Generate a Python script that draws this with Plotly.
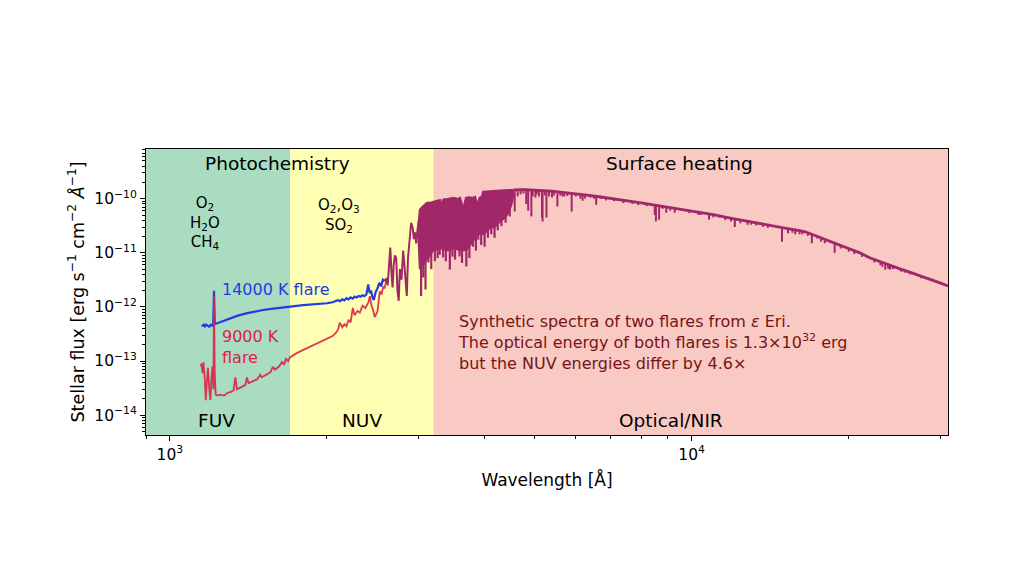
import math
import plotly.graph_objects as go

# ---------------- data ----------------
# background bands (wavelength edges, Angstrom)
band_edges = [900, 1700, 3200, 31000]
band_colors = ["#a9dcc1", "#ffffb3", "#f9c9c4"]

# 14000 K flare (FUV / NUV)
blue_wl = [1150, 1158, 1163, 1168, 1175, 1182, 1190, 1198, 1205, 1211, 1215, 1219, 1225, 1240,
           1270, 1300, 1350, 1400, 1450, 1500, 1550, 1600, 1650, 1700, 1750, 1800, 1850, 1900,
           1950, 2000, 2050, 2080, 2100, 2120, 2140, 2160, 2180, 2200, 2220, 2240, 2260, 2280,
           2300, 2320, 2340, 2360, 2380, 2400, 2415, 2430, 2445, 2460, 2480, 2500, 2520, 2540,
           2560, 2580]
blue_flux = [4.6e-13, 4.5e-13, 4.8e-13, 4.4e-13, 4.7e-13, 4.5e-13, 4.3e-13, 4.7e-13, 4.5e-13,
             4.8e-13, 2.0e-12, 4.9e-13, 4.9e-13, 5.1e-13, 5.6e-13, 6.1e-13, 6.9e-13, 7.6e-13,
             8.2e-13, 8.7e-13, 9.1e-13, 9.5e-13, 9.9e-13, 1.02e-12, 1.05e-12, 1.08e-12, 1.1e-12,
             1.12e-12, 1.14e-12, 1.17e-12, 1.22e-12, 1.28e-12, 1.33e-12, 1.28e-12, 1.38e-12,
             1.32e-12, 1.45e-12, 1.38e-12, 1.5e-12, 1.42e-12, 1.55e-12, 1.5e-12, 1.6e-12,
             1.55e-12, 1.65e-12, 1.58e-12, 1.7e-12, 2.6e-12, 1.8e-12, 2.0e-12, 1.5e-12,
             1.35e-12, 1.9e-12, 2.2e-12, 2.8e-12, 2.4e-12, 3.2e-12, 3.0e-12]

# 9000 K flare (FUV / NUV)
red_wl = [1145, 1150, 1155, 1160, 1166, 1172, 1177, 1183, 1190, 1196, 1201, 1207, 1212, 1215,
          1219, 1224, 1235, 1250, 1270, 1290, 1310, 1325, 1335, 1345, 1370, 1395, 1405, 1415,
          1440, 1470, 1490, 1500, 1530, 1560, 1575, 1590, 1620, 1640, 1655, 1670, 1685, 1700,
          1750, 1800, 1850, 1900, 1950, 2000, 2050, 2080, 2100, 2117, 2140, 2160, 2180, 2200,
          2220, 2242, 2260, 2290, 2312, 2340, 2370, 2400, 2417, 2435, 2450, 2470, 2500, 2525,
          2545, 2565, 2580, 2600]
red_flux = [8.0e-14, 9.0e-14, 6.0e-14, 9.5e-14, 5.0e-14, 1.9e-14, 4.0e-14, 7.5e-14, 3.0e-14,
            1.9e-14, 4.5e-14, 8.0e-14, 3.0e-14, 1.6e-12, 6.0e-14, 2.4e-14, 2.3e-14, 2.4e-14,
            2.3e-14, 2.6e-14, 2.7e-14, 2.9e-14, 5.0e-14, 3.0e-14, 3.3e-14, 3.6e-14, 5.0e-14,
            3.9e-14, 4.2e-14, 4.6e-14, 5.6e-14, 5.0e-14, 5.6e-14, 6.3e-14, 7.8e-14, 6.9e-14,
            8.0e-14, 9.6e-14, 8.6e-14, 1.1e-13, 1.0e-13, 1.18e-13, 1.4e-13, 1.6e-13, 1.8e-13,
            2.05e-13, 2.3e-13, 2.55e-13, 2.9e-13, 3.3e-13, 3.8e-13, 5.1e-13, 4.2e-13, 4.8e-13,
            4.4e-13, 5.8e-13, 5.2e-13, 9.6e-13, 7.0e-13, 8.5e-13, 7.8e-13, 1.05e-12, 9.5e-13,
            1.2e-12, 1.58e-12, 1.05e-12, 9.0e-13, 6.5e-13, 8.3e-13, 1.95e-12, 1.7e-12, 2.4e-12,
            2.2e-12, 3.2e-12]

# both flares coincide longward of ~2600 A
nuv_wl = [2580, 2600, 2615, 2630, 2645, 2660, 2672, 2685, 2700, 2715, 2730, 2745, 2760, 2780,
          2800, 2815, 2830, 2845, 2860, 2880, 2900, 2920, 2935, 2950, 2965, 2980, 3000]
nuv_flux = [3.0e-12, 3.4e-12, 2.5e-12, 6.0e-12, 1.25e-11, 4.0e-12, 2.3e-12, 6.0e-12, 9.0e-12,
            8.0e-12, 2.0e-12, 1.3e-12, 5.0e-12, 3.2e-12, 1.1e-11, 6.0e-12, 2.4e-12, 1.6e-12,
            8.0e-12, 2.0e-11, 3.6e-11, 2.9e-11, 1.8e-11, 2.4e-11, 1.5e-11, 2.5e-11, 4.0e-11]

# dense line-blanketed region: upper envelope, lower envelope, deep lines
dense_up_wl = [2990, 3010, 3040, 3070, 3100, 3130, 3160, 3200, 3250, 3300, 3320, 3340, 3400,
               3450, 3500, 3560, 3600, 3650, 3690, 3740, 3800, 3850, 3880, 3920, 3960, 3980,
               4050, 4150, 4250, 4350, 4450, 4560]
dense_upper = [3.0e-11, 6.3e-11, 7.0e-11, 7.8e-11, 8.4e-11, 8.6e-11, 8.5e-11, 8.9e-11, 9.3e-11,
               9.6e-11, 7.5e-11, 9.8e-11, 1.0e-10, 1.03e-10, 1.05e-10, 1.0e-10, 1.06e-10,
               6.8e-11, 1.05e-10, 1.08e-10, 1.05e-10, 1.1e-10, 8.0e-11, 1.05e-10, 1.1e-10,
               1.36e-10, 1.38e-10, 1.42e-10, 1.44e-10, 1.46e-10, 1.47e-10, 1.47e-10]
dense_low_wl = [2990, 3010, 3060, 3120, 3200, 3300, 3400, 3500, 3600, 3700, 3800, 3900, 4000,
                4100, 4200, 4300, 4400, 4480, 4540, 4560]
dense_lower = [2.2e-11, 5.0e-12, 6.0e-12, 8.0e-12, 1.1e-11, 1.2e-11, 1.1e-11, 1.2e-11, 1.1e-11,
               1.1e-11, 1.6e-11, 2.2e-11, 2.2e-11, 2.8e-11, 3.0e-11, 3.8e-11, 4.5e-11, 6.0e-11,
               9.0e-11, 1.3e-10]
dense_line_wl = [3030, 3060, 3090, 3130, 3170, 3220, 3260, 3290, 3340, 3380, 3440, 3480, 3520,
                 3590, 3630, 3700, 3750, 3810, 3860, 3900, 3950, 4010, 4070, 4130, 4190, 4250,
                 4320, 4400, 4480]
dense_line_top = [3.0e-11, 3.0e-11, 3.0e-11, 3.0e-11, 3.0e-11, 3.0e-11, 3.0e-11, 3.0e-11,
                  3.0e-11, 3.0e-11, 3.0e-11, 3.0e-11, 3.0e-11, 3.0e-11, 3.0e-11, 3.0e-11,
                  3.0e-11, 4.0e-11, 4.0e-11, 5.0e-11, 5.0e-11, 5.0e-11, 6.0e-11, 6.0e-11,
                  6.0e-11, 7.0e-11, 8.0e-11, 9.0e-11, 1.0e-10]
dense_line_core = [1.6e-12, 3.5e-12, 2.1e-12, 6.6e-12, 5.0e-12, 7.0e-12, 8.0e-12, 9.2e-12,
                   8.2e-12, 7.0e-12, 4.9e-12, 8.5e-12, 7.5e-12, 8.6e-12, 6.5e-12, 5.6e-12,
                   8.0e-12, 1.3e-11, 1.1e-11, 1.75e-11, 1.4e-11, 1.3e-11, 1.9e-11, 2.2e-11,
                   1.9e-11, 2.6e-11, 3.1e-11, 3.6e-11, 4.7e-11]

# optical / NIR continuum
cont_wl = [4560, 4600, 4700, 4800, 4900, 5000, 5200, 5400, 5600, 5800, 6000, 6300, 6600, 7000,
           7500, 8000, 8500, 9000, 9500, 10000, 10500, 11000, 12000, 13000, 14000, 15000, 16000,
           16500, 17000, 18000, 19000, 20000, 21000, 22000, 23000, 24000, 25000, 26000, 27000,
           28000, 29000, 30000, 31000]
cont_flux = [1.46e-10, 1.47e-10, 1.47e-10, 1.47e-10, 1.46e-10, 1.45e-10, 1.42e-10, 1.38e-10,
             1.33e-10, 1.29e-10, 1.24e-10, 1.17e-10, 1.10e-10, 1.02e-10, 9.2e-11, 8.4e-11,
             7.6e-11, 7.0e-11, 6.5e-11, 6.0e-11, 5.5e-11, 5.1e-11, 4.3e-11, 3.7e-11, 3.25e-11,
             2.9e-11, 2.6e-11, 2.45e-11, 2.2e-11, 1.75e-11, 1.45e-11, 1.2e-11, 1.0e-11, 8.0e-12,
             6.8e-12, 5.9e-12, 5.1e-12, 4.5e-12, 4.0e-12, 3.55e-12, 3.1e-12, 2.75e-12, 2.45e-12]

# strong absorption lines: wavelength, continuum level, line core
line_wl = [4580, 4640, 4700, 4760, 4820, 4861, 4930, 4960, 5020, 5100, 5167, 5180, 5270, 5330,
           5400, 5530, 5600, 5700, 5890, 6000, 6120, 6180, 6400, 6563, 6700, 7100, 7700, 8200,
           8498, 8542, 8662, 8800, 8940, 9280, 9700, 10400, 10800, 11300, 11900, 12100, 12800,
           13300, 14000, 14900, 15300, 15800, 16300, 17000, 17400, 18000, 18800, 20500, 21700,
           23000, 23500, 24000, 24300, 25200, 26200]
line_top = [1.46e-10, 1.47e-10, 1.47e-10, 1.47e-10, 1.47e-10, 1.47e-10, 1.46e-10, 1.46e-10,
            1.45e-10, 1.44e-10, 1.42e-10, 1.42e-10, 1.41e-10, 1.40e-10, 1.38e-10, 1.35e-10,
            1.33e-10, 1.31e-10, 1.27e-10, 1.24e-10, 1.21e-10, 1.20e-10, 1.15e-10, 1.12e-10,
            1.08e-10, 1.0e-10, 8.9e-11, 8.1e-11, 7.6e-11, 7.5e-11, 7.4e-11, 7.2e-11, 7.1e-11,
            6.7e-11, 6.3e-11, 5.6e-11, 5.3e-11, 4.9e-11, 4.4e-11, 4.2e-11, 3.8e-11, 3.55e-11,
            3.25e-11, 2.95e-11, 2.8e-11, 2.65e-11, 2.5e-11, 2.2e-11, 2.05e-11, 1.75e-11,
            1.5e-11, 1.1e-11, 8.6e-12, 6.8e-12, 6.3e-12, 5.9e-12, 5.7e-12, 5.0e-12, 4.4e-12]
line_core = [5.8e-11, 1.1e-10, 1.2e-10, 1.25e-10, 8.0e-11, 6.0e-11, 4.7e-11, 1.1e-10, 1.05e-10,
             1.1e-10, 4.5e-11, 3.8e-11, 4.5e-11, 1.1e-10, 1.05e-10, 7.2e-11, 1.15e-10, 1.1e-10,
             5.8e-11, 1.1e-10, 1.0e-10, 9.2e-11, 1.05e-10, 7.7e-11, 1.0e-10, 9.0e-11, 8.0e-11,
             7.3e-11, 5.0e-11, 3.8e-11, 4.1e-11, 6.5e-11, 5.5e-11, 5.5e-11, 5.9e-11, 5.0e-11,
             4.1e-11, 4.5e-11, 3.8e-11, 3.0e-11, 3.3e-11, 3.2e-11, 2.9e-11, 1.6e-11, 2.3e-11,
             2.2e-11, 2.2e-11, 1.5e-11, 1.85e-11, 1.5e-11, 1.0e-11, 9.5e-12, 8.0e-12, 5.9e-12,
             4.9e-12, 4.9e-12, 5.0e-12, 4.5e-12, 4.0e-12]

# weak absorption lines
weak_wl = [5050, 5230, 5450, 5650, 5780, 6250, 6500, 6850, 7400, 7900, 9100, 9900, 10300,
           11000, 11600, 12400, 13000, 13700, 15600, 16100, 16700, 17700, 19300, 20000, 21200,
           22400, 23200, 23800, 25600, 27500]
weak_top = [1.45e-10, 1.42e-10, 1.37e-10, 1.32e-10, 1.29e-10, 1.18e-10, 1.13e-10, 1.05e-10,
            9.4e-11, 8.6e-11, 6.9e-11, 6.1e-11, 5.7e-11, 5.1e-11, 4.6e-11, 4.0e-11, 3.7e-11,
            3.4e-11, 2.7e-11, 2.55e-11, 2.35e-11, 1.85e-11, 1.4e-11, 1.2e-11, 9.6e-12, 7.6e-12,
            6.6e-12, 6.1e-12, 4.8e-12, 3.8e-12]
weak_core = [1.2e-10, 1.15e-10, 1.15e-10, 1.1e-10, 1.12e-10, 1.0e-10, 1.0e-10, 9.3e-11, 8.3e-11,
             7.6e-11, 6.0e-11, 5.4e-11, 5.0e-11, 4.5e-11, 4.0e-11, 3.5e-11, 3.3e-11, 3.0e-11,
             2.35e-11, 2.2e-11, 2.05e-11, 1.6e-11, 1.2e-11, 1.05e-11, 8.4e-12, 6.6e-12, 5.5e-12,
             5.1e-12, 4.3e-12, 3.4e-12]

x_ticks = [1000, 10000]
x_ticktext = ["10<sup>3</sup>", "10<sup>4</sup>"]
x_minor = [900, 2000, 3000, 4000, 5000, 6000, 7000, 8000, 9000, 20000, 30000]
y_ticks = [1e-14, 1e-13, 1e-12, 1e-11, 1e-10]
y_ticktext = ["10<sup>\u221214</sup>", "10<sup>\u221213</sup>", "10<sup>\u221212</sup>",
              "10<sup>\u221211</sup>", "10<sup>\u221210</sup>"]
y_minor = [m * 10.0 ** e for e in range(-15, -9) for m in range(2, 10)]
y_limits = [4.3e-15, 8.3e-10]

# ---------------- styling ----------------
BLUE = "rgb(35,60,225)"
RED = "rgb(220,35,70)"
PURPLE = "rgb(160,40,105)"
FONT = "DejaVu Sans"

fig = go.Figure()

for i, c in enumerate(band_colors):
    fig.add_shape(type="rect", xref="x", yref="paper", x0=band_edges[i], x1=band_edges[i + 1],
                  y0=0, y1=1, fillcolor=c, line_width=0, layer="below")


def segments(xs, tops, bots):
    sx, sy = [], []
    for w, t, b in zip(xs, tops, bots):
        sx += [w, w, None]
        sy += [t, b, None]
    return sx, sy


fig.add_trace(go.Scatter(x=blue_wl, y=blue_flux, mode="lines",
                         line=dict(color=BLUE, width=2.2), hoverinfo="skip"))
fig.add_trace(go.Scatter(x=red_wl, y=red_flux, mode="lines",
                         line=dict(color=RED, width=1.8), opacity=0.9, hoverinfo="skip"))
fig.add_trace(go.Scatter(x=nuv_wl, y=nuv_flux, mode="lines",
                         line=dict(color=PURPLE, width=2), hoverinfo="skip"))
fig.add_trace(go.Scatter(x=dense_low_wl, y=dense_lower, mode="lines",
                         line=dict(color=PURPLE, width=1.5), hoverinfo="skip"))
fig.add_trace(go.Scatter(x=dense_up_wl, y=dense_upper, mode="lines", fill="tonexty",
                         fillcolor=PURPLE, line=dict(color=PURPLE, width=1.5), hoverinfo="skip"))
dx, dy = segments(dense_line_wl, dense_line_top, dense_line_core)
fig.add_trace(go.Scatter(x=dx, y=dy, mode="lines", connectgaps=False,
                         line=dict(color=PURPLE, width=2.2), hoverinfo="skip"))
fig.add_trace(go.Scatter(x=cont_wl, y=cont_flux, mode="lines",
                         line=dict(color=PURPLE, width=2.8), hoverinfo="skip"))
lx, ly = segments(line_wl, line_top, line_core)
fig.add_trace(go.Scatter(x=lx, y=ly, mode="lines", connectgaps=False,
                         line=dict(color=PURPLE, width=2), hoverinfo="skip"))
wx, wy = segments(weak_wl, weak_top, weak_core)
fig.add_trace(go.Scatter(x=wx, y=wy, mode="lines", connectgaps=False,
                         line=dict(color=PURPLE, width=1.8), hoverinfo="skip"))

# page body has an 8px margin, so the figure is drawn 8px in/down
OFF = 8
L, R, T, B = 146 - OFF, 948 - OFF, 149 - OFF, 435 - OFF
W, H = 1024 - OFF, 579 - OFF


def px(x):
    return (x - OFF - L) / (R - L)


def py(y):
    return (B - (y - OFF)) / (B - T)


def ann(text, x, y, size, color="black", xanchor="center", align="center"):
    fig.add_annotation(text=text, x=px(x), y=py(y), xref="paper", yref="paper",
                       showarrow=False, xanchor=xanchor, yanchor="middle", align=align,
                       font=dict(family=FONT, size=size, color=color))


ann("Photochemistry", 277, 164, 18.5)
ann("Surface heating", 679, 164, 18.5)
ann("O<sub>2</sub><br>H<sub>2</sub>O<br>CH<sub>4</sub>", 205, 223, 15)
ann("O<sub>2</sub>,O<sub>3</sub><br>SO<sub>2</sub>", 339, 215, 15)
ann("14000 K flare", 220, 289, 16, BLUE, "left")
ann("9000 K<br>flare", 220, 347, 16, RED, "left", "left")
ann("FUV", 216, 420, 18.5)
ann("NUV", 362, 420, 18.5)
ann("Optical/NIR", 671, 420, 18.5)
ann("Synthetic spectra of two flares from <i>\u03b5</i> Eri.<br>"
    "The optical energy of both flares is 1.3\u00d710<sup>32</sup> erg<br>"
    "but the NUV energies differ by 4.6\u00d7", 456, 342, 16, "rgb(120,20,20)", "left", "left")

fig.update_layout(
    width=W, height=H,
    margin=dict(l=L, r=W - R, t=T, b=H - B, autoexpand=False),
    paper_bgcolor="white", plot_bgcolor="white",
    showlegend=False,
    font=dict(family=FONT, color="black"),
)
fig.update_xaxes(
    type="log", range=[math.log10(band_edges[0]), math.log10(band_edges[-1])],
    tickvals=x_ticks, ticktext=x_ticktext, ticks="outside", ticklen=5, tickwidth=1,
    tickcolor="black", tickfont=dict(size=15.5, family=FONT),
    minor=dict(tickvals=x_minor, ticks="outside", ticklen=3, tickcolor="black", showgrid=False),
    showgrid=False, zeroline=False, showline=True, linecolor="black", linewidth=1, mirror=True,
    title=dict(text="Wavelength [\u00c5]", font=dict(size=17, family=FONT), standoff=11),
)
fig.update_yaxes(
    type="log", range=[math.log10(y_limits[0]), math.log10(y_limits[1])],
    tickvals=y_ticks, ticktext=y_ticktext, ticks="outside", ticklen=5, tickwidth=1,
    tickcolor="black", tickfont=dict(size=15.5, family=FONT),
    minor=dict(tickvals=y_minor, ticks="outside", ticklen=3, tickcolor="black", showgrid=False),
    showgrid=False, zeroline=False, showline=True, linecolor="black", linewidth=1, mirror=True,
    title=dict(text="Stellar flux [erg s<sup>\u22121</sup> cm<sup>\u22122</sup> "
                    "<i>\u00c5</i><sup>\u22121</sup>]",
               font=dict(size=17.5, family=FONT), standoff=5),
)

fig.write_html("out.html")
